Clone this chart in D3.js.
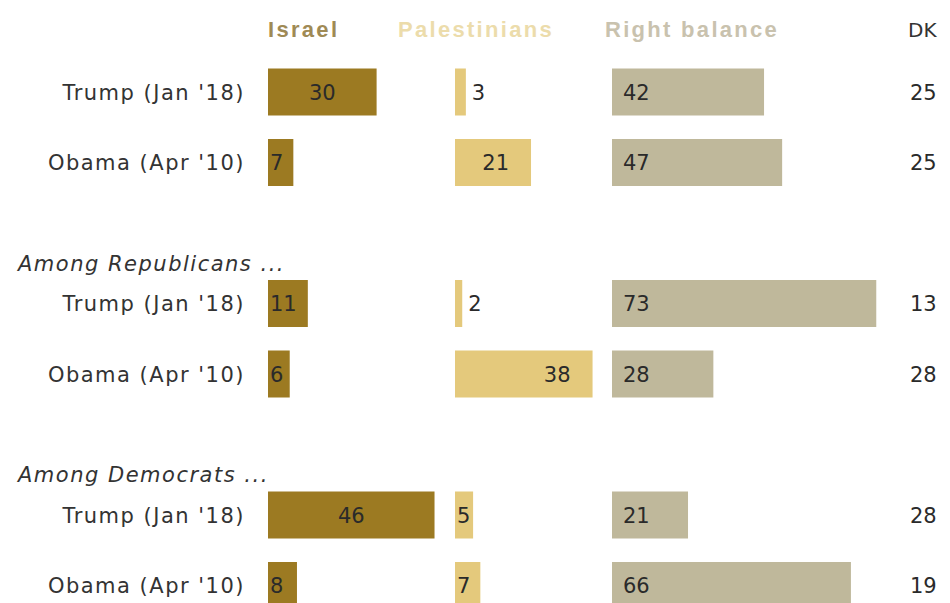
<!DOCTYPE html>
<html>
<head>
<meta charset="utf-8">
<script src="https://cdn.jsdelivr.net/npm/d3@7/dist/d3.min.js"></script>
<style>
  html, body { margin: 0; padding: 0; background: #ffffff; }
  svg { display: block; }
  text { font-family: "DejaVu Sans", "Liberation Sans", Arial, sans-serif; }
  text.header { font-family: "Liberation Sans", Arial, sans-serif; }
</style>
</head>
<body>
<svg id="chart" width="950" height="603"></svg>
<script>
// ---- data ----
const columns = ["Israel", "Palestinians", "Right balance", "DK"];
const groups = ["", "Among Republicans ...", "Among Democrats ..."];
const rowLabels = ["Trump (Jan '18)", "Obama (Apr '10)"];
const israel       = [30, 7, 11, 6, 46, 8];
const palestinians = [3, 21, 2, 38, 5, 7];
const rightBalance = [42, 47, 73, 28, 21, 66];
const dk           = [25, 25, 13, 28, 28, 19];

// ---- layout ----
const svg = d3.select("#chart");
const rowKeys = ["t0", "o0", "h1", "t1", "o1", "h2", "t2", "o2"];
const y = d3.scalePoint().domain(rowKeys).range([92, 585.5]);
const x = d3.scaleLinear().domain([0, 100]).range([0, 362]);
const barH = 47;

const colStart = { "Israel": 268, "Palestinians": 455, "Right balance": 612, "DK": 910 };
const headerX  = { "Israel": 268, "Palestinians": 398, "Right balance": 605, "DK": 908 };
const colors   = { "Israel": "#9c7a22", "Palestinians": "#e4c97c", "Right balance": "#bfb89b" };
const headerColors = { "Israel": "#9f8a55", "Palestinians": "#ecdcab", "Right balance": "#c9c2ae", "DK": "#333333" };

const rows = [];
for (let g = 0; g < 3; g++) {
  for (let r = 0; r < 2; r++) {
    const i = g * 2 + r;
    rows.push({
      key: (r === 0 ? "t" : "o") + g,
      label: rowLabels[r],
      israel: israel[i], pal: palestinians[i], rb: rightBalance[i], dk: dk[i]
    });
  }
}

// headers
svg.selectAll("text.header").data(columns).enter().append("text")
  .attr("class", d => d === "DK" ? "dkhead" : "header")
  .attr("x", d => headerX[d])
  .attr("y", 37)
  .attr("font-size", d => d === "DK" ? 20 : 22)
  .attr("font-weight", d => d === "DK" ? "normal" : "bold")
  .attr("letter-spacing", d => d === "DK" ? 0 : 2.3)
  .attr("fill", d => headerColors[d])
  .text(d => d);

// group labels
svg.selectAll("text.group").data(groups.slice(1)).enter().append("text")
  .attr("class", "group")
  .attr("x", 18)
  .attr("y", (d, i) => y("t" + (i + 1)) - 33)
  .attr("font-size", 21)
  .attr("font-style", "italic")
  .attr("letter-spacing", 1.5)
  .attr("fill", "#333")
  .text(d => d);

// row labels
svg.selectAll("text.rowlabel").data(rows).enter().append("text")
  .attr("class", "rowlabel")
  .attr("x", 245)
  .attr("y", d => y(d.key))
  .attr("dy", "0.36em")
  .attr("text-anchor", "end")
  .attr("font-size", 21)
  .attr("letter-spacing", 1.5)
  .attr("fill", "#333")
  .text(d => d.label);

const series = [
  { col: "Israel", field: "israel" },
  { col: "Palestinians", field: "pal" },
  { col: "Right balance", field: "rb" }
];

series.forEach(s => {
  const x0 = colStart[s.col];
  svg.selectAll("rect." + s.field).data(rows).enter().append("rect")
    .attr("class", s.field)
    .attr("x", x0)
    .attr("y", d => y(d.key) - barH / 2)
    .attr("width", d => x(d[s.field]))
    .attr("height", barH)
    .attr("fill", colors[s.col]);

  svg.selectAll("text.v" + s.field).data(rows).enter().append("text")
    .attr("class", "v" + s.field)
    .attr("y", d => y(d.key))
    .attr("dy", "0.36em")
    .attr("font-size", 21)
    .attr("fill", "#2a2a2a")
    .each(function (d) {
      const v = d[s.field];
      const w = x(v);
      const t = d3.select(this).text(v);
      if (s.field === "israel") {
        if (w > 60) t.attr("x", x0 + w / 2).attr("text-anchor", "middle");
        else t.attr("x", x0 + 2).attr("text-anchor", "start");
      } else if (s.field === "pal") {
        if (v <= 3) t.attr("x", x0 + w + 6).attr("text-anchor", "start");
        else if (w < 40) t.attr("x", x0 + 2).attr("text-anchor", "start");
        else t.attr("x", x0 + w - 22).attr("text-anchor", "end");
      } else {
        t.attr("x", x0 + 11).attr("text-anchor", "start");
      }
    });
});

// DK values
svg.selectAll("text.dk").data(rows).enter().append("text")
  .attr("class", "dk")
  .attr("x", colStart["DK"])
  .attr("y", d => y(d.key))
  .attr("dy", "0.36em")
  .attr("font-size", 21)
  .attr("fill", "#2a2a2a")
  .text(d => d.dk);
</script>
</body>
</html>
